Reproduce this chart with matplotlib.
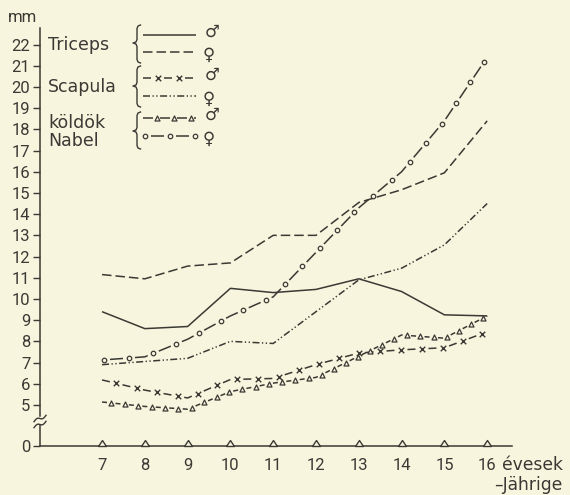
import numpy as np
import matplotlib
matplotlib.use('Agg')
import matplotlib.pyplot as plt
from matplotlib import patheffects
from matplotlib.markers import MarkerStyle
from matplotlib.path import Path
from matplotlib.transforms import IdentityTransform, Affine2D
from matplotlib.colors import to_rgb

# ---------------- data ----------------
ages = [7, 8, 9, 10, 11, 12, 13, 14, 15, 16]
triceps_m = [9.4, 8.6, 8.7, 10.5, 10.3, 10.45, 10.95, 10.35, 9.25, 9.2]
triceps_f = [11.15, 10.95, 11.55, 11.7, 13.0, 13.0, 14.55, 15.15, 15.95, 18.4]
scapula_m = [6.18, 5.7, 5.33, 6.2, 6.25, 6.9, 7.45, 7.6, 7.7, 8.45]
scapula_f = [6.9, 7.05, 7.2, 8.0, 7.9, 9.4, 10.9, 11.45, 12.55, 14.5]
koldok_m = [5.14, 4.93, 4.8, 5.63, 6.03, 6.3, 7.3, 8.3, 8.15, 9.2]
nabel_f = [7.12, 7.27, 8.1, 9.2, 10.1, 12.2, 14.3, 16.0, 18.4, 21.4]
y_ticks = [0] + list(range(5, 23))
group_labels = ["Triceps", "Scapula", "köldök", "Nabel"]
x_unit_hu = "évesek"
x_unit_de = "–Jährige"
y_unit = "mm"

# ---------------- style ----------------
BG = '#f8f5de'
LC = '#3a3934'
P = 0.72  # px -> pt at 100 dpi
plt.rcParams['lines.scale_dashes'] = False
plt.rcParams['font.family'] = ['DejaVu Sans']
TICKFONT = ['Roboto', 'DejaVu Sans']


class MarksAlong(patheffects.AbstractPathEffect):
    """Draw the path, then repeat a marker glyph along it at a fixed spacing."""

    def __init__(self, marker, size_pt, period_pt, offset_pt, lw, face=None):
        super().__init__()
        self.marker = marker
        self.size = size_pt
        self.period = period_pt
        self.offset = offset_pt
        self.lw = lw
        self.face = face

    def draw_path(self, renderer, gc, tpath, affine, rgbFace=None):
        renderer.draw_path(gc, tpath, affine, rgbFace)
        v = affine.transform(tpath.vertices)
        d = np.hypot(*np.diff(v, axis=0).T)
        cum = np.concatenate([[0], np.cumsum(d)])
        per = renderer.points_to_pixels(self.period)
        off = renderer.points_to_pixels(self.offset)
        pos = np.arange(off, cum[-1], per)
        if len(pos) == 0:
            return
        xs = np.interp(pos, cum, v[:, 0])
        ys = np.interp(pos, cum, v[:, 1])
        ms = MarkerStyle(self.marker)
        mtrans = ms.get_transform() + Affine2D().scale(renderer.points_to_pixels(self.size))
        gc2 = renderer.new_gc()
        gc2.copy_properties(gc)
        gc2.set_dashes(0, None)
        gc2.set_linewidth(self.lw)
        renderer.draw_markers(gc2, ms.get_path(), mtrans,
                              Path(np.column_stack([xs, ys])), IdentityTransform(),
                              self.face)
        gc2.restore()


BGRGB = to_rgb(BG)
LW = 1.1

STY = {
    'tm': dict(ls='-'),
    'tf': dict(ls=(0, (9.5 * P, 4 * P))),
    'sm': dict(ls=(0, (8 * P, 13 * P)),
               path_effects=[MarksAlong('x', 5.5 * P, 21 * P, 14.5 * P, 1.0)]),
    'sf': dict(ls=(0, (7 * P, 2.5 * P, 1.3 * P, 2.5 * P, 1.3 * P, 2.5 * P))),
    'km': dict(ls=(0, (5 * P, 8.5 * P)),
               path_effects=[MarksAlong('^', 5 * P, 13.5 * P, 9.25 * P, 0.9, BGRGB)]),
    'nf': dict(ls=(17 * P, (13 * P, 12 * P)),
               path_effects=[MarksAlong('o', 4.5 * P, 25 * P, 2 * P, 0.9, BGRGB)]),
}

# ---------------- figure ----------------
fig = plt.figure(figsize=(5.7, 4.95), dpi=100, facecolor=BG)
ax = fig.add_axes([40 / 570, 1 - 446 / 495, 472 / 570, 418 / 495])
ax.set_facecolor('none')

T0 = 3.064
K = 4.5


def fwd(y):
    y = np.asarray(y, float)
    return np.where(y >= K, y, T0 + y * (K - T0) / K)


def inv(t):
    t = np.asarray(t, float)
    return np.where(t >= K, t, (t - T0) * K / (K - T0))


ax.set_yscale('function', functions=(fwd, inv))
ax.set_ylim(0, 22.78)
ax.set_xlim(5.55, 16.58)

series = [(triceps_m, 'tm'), (triceps_f, 'tf'), (scapula_m, 'sm'),
          (scapula_f, 'sf'), (koldok_m, 'km'), (nabel_f, 'nf')]
for vals, key in series:
    ax.plot(ages, vals, color=LC, lw=LW, solid_capstyle='butt',
            dash_capstyle='butt', **STY[key])

# triangles sitting on the x axis at each age
tri = Path([(-1, 0), (1, 0), (0, 1.5), (-1, 0)],
           [Path.MOVETO, Path.LINETO, Path.LINETO, Path.CLOSEPOLY])
ax.plot(ages, [0] * len(ages), ls='none', marker=tri, ms=8.6, mfc=BG, mec=LC,
        mew=1.0, clip_on=False, zorder=5)

for s in ['top', 'right']:
    ax.spines[s].set_visible(False)
for s in ['left', 'bottom']:
    ax.spines[s].set_color(LC)
    ax.spines[s].set_linewidth(1.1)

# broken y axis
ax.spines['left'].set_bounds(float(inv(5 - 11 / 21.18)), 22.78)
ax.plot([0, 0], [0, float(inv(5 - 20 / 21.18))], transform=ax.get_yaxis_transform(),
        color=LC, lw=1.1, clip_on=False, solid_capstyle='butt')

ax.set_yticks(y_ticks)
ax.set_yticklabels([str(t) for t in y_ticks], family=TICKFONT)
ax.yaxis.set_minor_locator(matplotlib.ticker.NullLocator())
ax.tick_params(axis='y', direction='out', length=5, width=1.0, color=LC,
               pad=2, labelsize=12, labelcolor=LC)
ax.set_xticks(ages)
ax.set_xticklabels([str(a) for a in ages], family=TICKFONT)
ax.tick_params(axis='x', length=0, pad=8.5, labelsize=12, labelcolor=LC)

# ---------------- overlay (pixel coordinates) ----------------
ov = fig.add_axes([0, 0, 1, 1])
ov.set_xlim(0, 570)
ov.set_ylim(495, 0)
ov.axis('off')
ov.patch.set_visible(False)

# break marks on the y axis
tt = np.linspace(-1, 1, 30)
for y0 in (418.5, 424.5):
    ov.plot(40 + 6 * tt, y0 - 3.2 * tt + 1.6 * np.sin(np.pi * tt), color=LC, lw=1.0)

ov.text(8, 22, y_unit, fontsize=12, color=LC, ha='left', va='baseline', family=TICKFONT)
ov.text(502, 470, x_unit_hu, fontsize=12.3, color=LC, ha='left', va='baseline')
ov.text(494, 490, x_unit_de, fontsize=12.3, color=LC, ha='left', va='baseline')

# legend
leg_rows = [(35, 'tm'), (52, 'tf'), (78, 'sm'), (96, 'sf'), (118, 'km'), (136, 'nf')]
for yy, key in leg_rows:
    sty = dict(STY[key])
    if key == 'km':
        sty = dict(ls=(0, (10 * P, 7 * P)),
                   path_effects=[MarksAlong('^', 5 * P, 17 * P, 13.5 * P, 0.9, BGRGB)])
    ov.plot([143, 196], [yy, yy], color=LC, lw=LW, solid_capstyle='butt',
            dash_capstyle='butt', **sty)

for txt, yb in zip(group_labels, [50, 92, 128, 146]):
    ov.text(48, yb, txt, fontsize=12.5, color=LC, ha='left', va='baseline')


def brace(x, y0, y1, ym):
    r = 3.5
    xs = [x + r, x + 1, x, x, x - 1, x - 4, x - 1, x, x, x + 1, x + r]
    ys = [y0, y0 + 1, y0 + r, ym - r, ym - 1, ym, ym + 1, ym + r, y1 - r, y1 - 1, y1]
    ov.plot(xs, ys, color=LC, lw=1.0)


brace(137, 25, 63, 43)
brace(137, 66, 107, 86)
brace(137, 112, 149, 131)

for i, (yy, key) in enumerate(leg_rows):
    if i % 2 == 0:
        ov.text(212, yy - 3, '♂', fontsize=12, color=LC, ha='center', va='center')
    else:
        ov.text(209, yy + 3, '♀', fontsize=12, color=LC, ha='center', va='center')

fig.savefig('out.png', dpi=100, facecolor=BG)
